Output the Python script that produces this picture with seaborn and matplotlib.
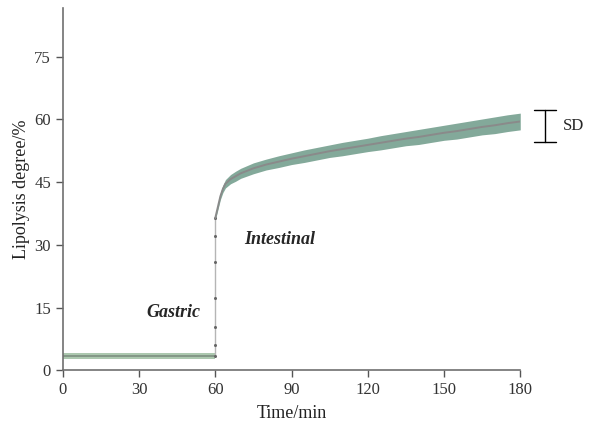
import matplotlib
matplotlib.use("Agg")
import matplotlib.pyplot as plt
import seaborn as sns
import pandas as pd

# gastric phase (0-60 min)
gastric_time = [0, 10, 20, 30, 40, 50, 60]
gastric_mean = [3.4, 3.4, 3.4, 3.4, 3.4, 3.4, 3.4]
gastric_sd = [0.7, 0.7, 0.7, 0.7, 0.7, 0.7, 0.7]

# jump at the start of intestinal phase
jump_time = [60, 60, 60, 60, 60, 60, 60]
jump_value = [3.4, 6.0, 10.3, 17.3, 25.9, 32.1, 36.4]

# intestinal phase (60-180 min)
intest_time = [60, 61, 62, 63, 64, 66, 68, 70, 75, 80, 85, 90, 95, 100, 105,
               110, 115, 120, 125, 130, 135, 140, 145, 150, 155, 160, 165,
               170, 175, 180]
intest_mean = [36.4, 39.0, 41.6, 43.4, 44.6, 45.7, 46.4, 47.1, 48.3, 49.2,
               49.9, 50.6, 51.2, 51.8, 52.4, 52.9, 53.4, 53.9, 54.4, 54.9,
               55.4, 55.8, 56.3, 56.8, 57.2, 57.7, 58.2, 58.6, 59.1, 59.5]
intest_sd = [0.5, 0.7, 0.8, 0.9, 1.0, 1.1, 1.2, 1.2, 1.3, 1.3, 1.4, 1.4, 1.5,
             1.5, 1.5, 1.6, 1.6, 1.6, 1.7, 1.7, 1.7, 1.8, 1.8, 1.8, 1.9, 1.9,
             1.9, 2.0, 2.0, 2.0]

sns.set_theme(style="ticks")
plt.rcParams['font.family'] = ['Liberation Serif', 'DejaVu Serif']

fig = plt.figure(figsize=(5.98, 4.33), dpi=100)
ax = fig.add_axes([0.105, 0.145, 0.765, 0.837])

g = pd.DataFrame({'t': gastric_time, 'm': gastric_mean, 's': gastric_sd})
i = pd.DataFrame({'t': intest_time, 'm': intest_mean, 's': intest_sd})
j = pd.DataFrame({'t': jump_time, 'v': jump_value})

ax.fill_between(g['t'], g['m'] - g['s'], g['m'] + g['s'], color='#a3c2a6',
                alpha=0.9, lw=0)
ax.fill_between(i['t'], i['m'] - i['s'], i['m'] + i['s'], color='#76a08f',
                alpha=0.9, lw=0)
sns.lineplot(data=g, x='t', y='m', ax=ax, color='#7d8f80', lw=1.2)
sns.lineplot(data=j, x='t', y='v', ax=ax, color='#b5b5b5', lw=1.0,
             estimator=None, sort=False, marker='o', markersize=2.2,
             markeredgewidth=0, markerfacecolor='#666666')
sns.lineplot(data=i, x='t', y='m', ax=ax, color='#8a8a8a', lw=1.4)

ax.set_xlim(0, 180)
ax.set_ylim(0, 86.7)
ax.set_xticks([0, 30, 60, 90, 120, 150, 180])
ax.set_yticks([0, 15, 30, 45, 60, 75])
ax.set_xlabel('Time/min', fontsize=13, color='#222222', labelpad=5)
ax.set_ylabel('Lipolysis degree/%', fontsize=13, color='#222222', labelpad=3)
ax.tick_params(axis='both', labelsize=12, colors='#333333', length=5,
               width=1, direction='out', color='#555555')
for side in ['top', 'right']:
    ax.spines[side].set_visible(False)
for side in ['left', 'bottom']:
    ax.spines[side].set_color('#707070')
    ax.spines[side].set_linewidth(1.2)

ax.text(43.4, 13.7, 'Gastric', fontsize=13, fontweight='bold',
        fontstyle='italic', ha='center', va='center')
ax.text(85.5, 31.2, 'Intestinal', fontsize=13, fontweight='bold',
        fontstyle='italic', ha='center', va='center')

# SD scale bar
tr = ax.transAxes
x0, ytop, ybot, cap = 1.054, 0.717, 0.629, 0.024
ax.plot([x0, x0], [ybot, ytop], transform=tr, color='black', lw=1,
        clip_on=False)
ax.plot([x0 - cap, x0 + cap], [ytop, ytop], transform=tr, color='black',
        lw=1, clip_on=False)
ax.plot([x0 - cap, x0 + cap], [ybot, ybot], transform=tr, color='black',
        lw=1, clip_on=False)
ax.text(x0 + 0.04, (ytop + ybot) / 2, 'SD', transform=tr, fontsize=12,
        ha='left', va='center')

fig.savefig('out.png', dpi=100)
